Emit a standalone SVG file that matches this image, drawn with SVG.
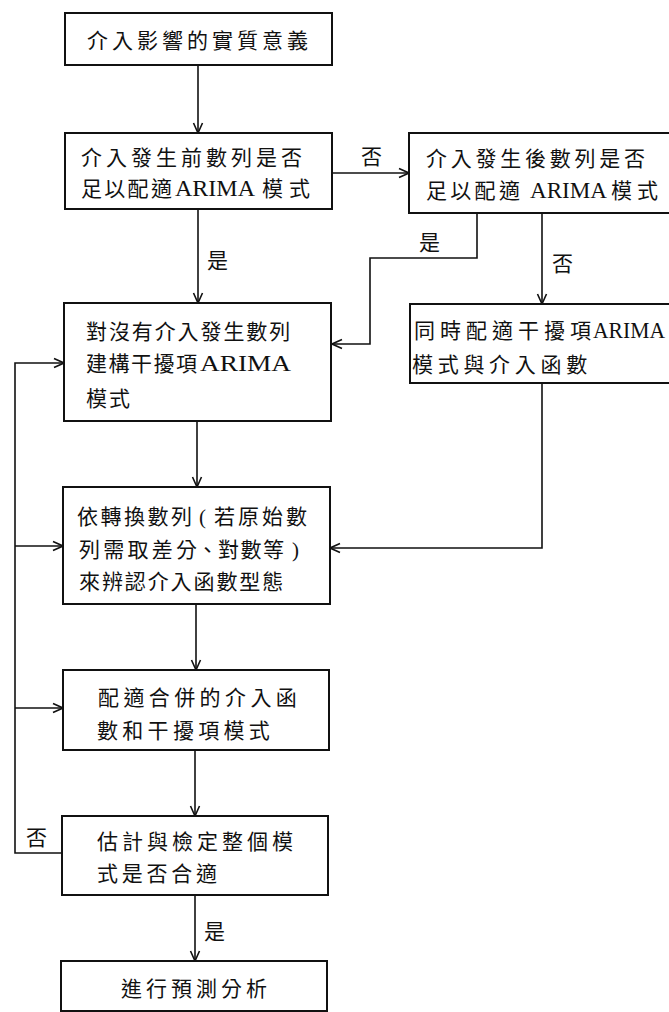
<svg xmlns="http://www.w3.org/2000/svg" width="669" height="1012" viewBox="0 0 669 1012">
<style>
.box{fill:#fff;stroke:#111;stroke-width:2}
.t{font-family:"Liberation Serif","Noto Sans CJK TC",serif;font-size:21px;fill:#111}
.a{font-family:"Liberation Serif",serif;font-size:24px}
.c{fill:none;stroke:#111;stroke-width:1.6}
</style>
<defs>
<marker id="ar" markerUnits="userSpaceOnUse" markerWidth="12" markerHeight="12" refX="11" refY="6" orient="auto">
<path d="M1,1.5 L11,6 L1,10.5" fill="none" stroke="#111" stroke-width="1.6"/>
</marker>
</defs>
<rect width="669" height="1012" fill="#fff"/>
<g id="connectors">
<line class="c" x1="198" y1="65" x2="198" y2="133" marker-end="url(#ar)"/>
<line class="c" x1="198" y1="209" x2="198" y2="303" marker-end="url(#ar)"/>
<line class="c" x1="332" y1="173" x2="409" y2="173" marker-end="url(#ar)"/>
<polyline class="c" points="477,213 477,258 370,258 370,344 332,344" marker-end="url(#ar)"/>
<line class="c" x1="542" y1="213" x2="542" y2="304" marker-end="url(#ar)"/>
<polyline class="c" points="542,383 542,548 330,548" marker-end="url(#ar)"/>
<line class="c" x1="197" y1="421" x2="197" y2="487" marker-end="url(#ar)"/>
<line class="c" x1="196" y1="604" x2="196" y2="670" marker-end="url(#ar)"/>
<line class="c" x1="195" y1="750" x2="195" y2="816" marker-end="url(#ar)"/>
<line class="c" x1="195" y1="895" x2="195" y2="961" marker-end="url(#ar)"/>
<polyline class="c" points="62,853 15,853 15,363 64,363" marker-end="url(#ar)"/>
<line class="c" x1="15" y1="546" x2="63" y2="546" marker-end="url(#ar)"/>
<line class="c" x1="15" y1="708" x2="63" y2="708" marker-end="url(#ar)"/>
<text class="t" x="361" y="164">否</text>
<text class="t" x="419" y="250">是</text>
<text class="t" x="552" y="271">否</text>
<text class="t" x="207" y="268">是</text>
<text class="t" x="26" y="845">否</text>
<text class="t" x="204" y="939">是</text>
</g>
<g id="node1">
<rect class="box" x="65" y="13" width="267" height="52"/>
<text class="t" x="87" y="48" letter-spacing="4">介入影響的實質意義</text>
</g>
<g id="node2">
<rect class="box" x="65" y="133" width="267" height="76"/>
<text class="t" x="81" y="165" letter-spacing="4">介入發生前數列是否</text>
<text class="t" y="196"><tspan x="81" letter-spacing="2.3">足以配適</tspan><tspan class="a" x="175" textLength="80" lengthAdjust="spacingAndGlyphs">ARIMA</tspan><tspan x="262" letter-spacing="6">模式</tspan></text>
</g>
<g id="node3">
<rect class="box" x="409" y="133" width="290" height="80"/>
<text class="t" x="426" y="166" letter-spacing="3.75">介入發生後數列是否</text>
<text class="t" y="198"><tspan x="426" letter-spacing="3.3">足以配適</tspan><tspan class="a" x="530" textLength="77" lengthAdjust="spacingAndGlyphs">ARIMA</tspan><tspan x="611" letter-spacing="5">模式</tspan></text>
</g>
<g id="node4">
<rect class="box" x="64" y="303" width="267" height="118"/>
<text class="t" x="86" y="339" letter-spacing="1.9">對沒有介入發生數列</text>
<text class="t" y="371"><tspan x="86" letter-spacing="1.5">建構干擾項</tspan><tspan class="a" x="200" textLength="91" lengthAdjust="spacingAndGlyphs">ARIMA</tspan></text>
<text class="t" x="86" y="406" letter-spacing="2">模式</text>
</g>
<g id="node5">
<rect class="box" x="410" y="304" width="290" height="79"/>
<text class="t" y="338"><tspan x="414" letter-spacing="5">同時配適干擾項</tspan><tspan class="a" x="593" textLength="72" lengthAdjust="spacingAndGlyphs">ARIMA</tspan></text>
<text class="t" x="412" y="372" letter-spacing="4.7">模式與介入函數</text>
</g>
<g id="node6">
<rect class="box" x="63" y="487" width="267" height="117"/>
<text class="t" y="524"><tspan x="77" letter-spacing="2.5">依轉換數列</tspan><tspan x="199">(</tspan><tspan x="214" letter-spacing="3">若原始數</tspan></text>
<text class="t" y="557"><tspan x="79" letter-spacing="3.25">列需取差分</tspan><tspan x="197">、</tspan><tspan x="218" letter-spacing="1.5">對數等</tspan><tspan x="292">)</tspan></text>
<text class="t" x="79" y="589" letter-spacing="1.9">來辨認介入函數型態</text>
</g>
<g id="node7">
<rect class="box" x="63" y="670" width="266" height="80"/>
<text class="t" x="98" y="705" letter-spacing="4.4">配適合併的介入函</text>
<text class="t" x="97" y="738" letter-spacing="4.3">數和干擾項模式</text>
</g>
<g id="node8">
<rect class="box" x="62" y="816" width="266" height="79"/>
<text class="t" x="97" y="849" letter-spacing="4">估計與檢定整個模</text>
<text class="t" x="97" y="881" letter-spacing="3.75">式是否合適</text>
</g>
<g id="node9">
<rect class="box" x="61" y="961" width="266" height="50"/>
<text class="t" x="121" y="996" letter-spacing="4">進行預測分析</text>
</g>
</svg>
